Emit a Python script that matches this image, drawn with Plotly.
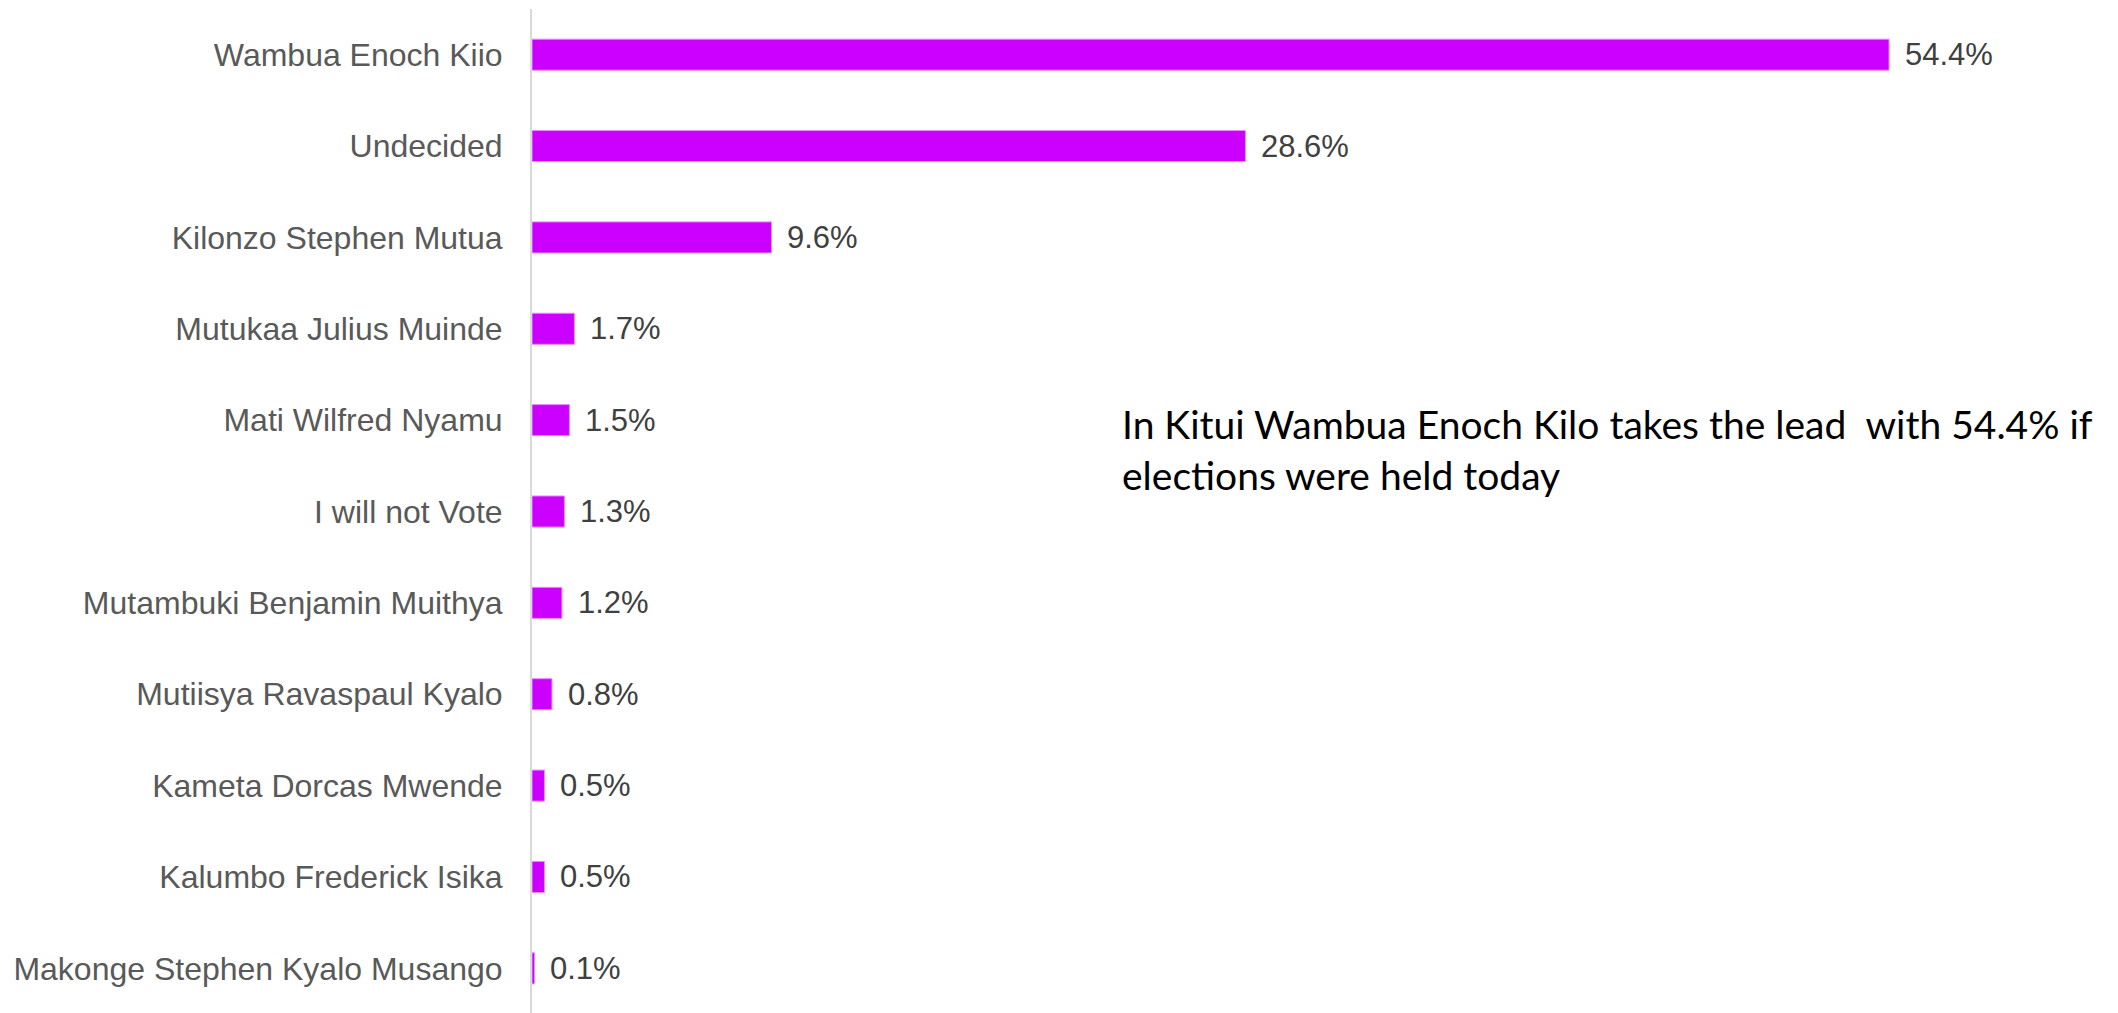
import plotly.graph_objects as go

# --- Data (top to bottom as shown) ---
candidates = [
    "Wambua Enoch Kiio",
    "Undecided",
    "Kilonzo Stephen Mutua",
    "Mutukaa Julius Muinde",
    "Mati Wilfred Nyamu",
    "I will not Vote",
    "Mutambuki Benjamin Muithya",
    "Mutiisya Ravaspaul Kyalo",
    "Kameta Dorcas Mwende",
    "Kalumbo Frederick Isika",
    "Makonge Stephen Kyalo Musango",
]
shares = [54.4, 28.6, 9.6, 1.7, 1.5, 1.3, 1.2, 0.8, 0.5, 0.5, 0.1]

headline = ("In Kitui Wambua Enoch Kilo takes the lead&nbsp; with 54.4% if<br>"
            "elections were held today")

BAR_COLOR = "#CC00FF"

fig = go.Figure()
fig.add_trace(go.Bar(
    x=shares,
    y=candidates,
    orientation="h",
    marker=dict(color=BAR_COLOR, line=dict(color="#E58CFF", width=1)),
    width=0.34,
    hoverinfo="x+y",
))

# value labels just past the end of each bar
for name, val in zip(candidates, shares):
    fig.add_annotation(
        x=val, y=name, xref="x", yref="y",
        text=f"{val:.1f}%", showarrow=False,
        xanchor="left", yanchor="middle", xshift=14,
        font=dict(family="Liberation Sans, Arial", size=31, color="#404040"),
    )

# headline text on the right
fig.add_annotation(
    x=0.369, y=0.562, xref="paper", yref="paper",
    text=headline, showarrow=False, align="left",
    xanchor="left", yanchor="middle",
    font=dict(family="Lato, Noto Sans", size=39, color="#000000"),
)

fig.update_layout(
    width=2118, height=1013,
    margin=dict(l=524, r=0, t=1, b=7),
    plot_bgcolor="white", paper_bgcolor="white",
    showlegend=False,
)
fig.update_xaxes(range=[0, 63.9], visible=False, showgrid=False, automargin=False)
fig.update_yaxes(
    categoryorder="array", categoryarray=candidates[::-1],
    showline=True, linecolor="#D9D9D9", linewidth=2,
    showgrid=False, ticks="", ticklabelstandoff=21, automargin=False,
    tickfont=dict(family="Liberation Sans, Arial", size=32, color="#595959"),
)

fig.write_html("out.html")
